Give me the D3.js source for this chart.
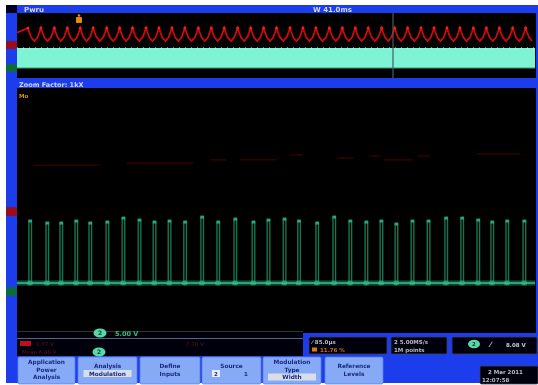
<!DOCTYPE html>
<html><head><meta charset="utf-8">
<script src="https://cdn.jsdelivr.net/npm/d3@7"></script>
<style>html,body{margin:0;padding:0;background:#fff;overflow:hidden}</style>
</head><body><svg id="c" width="538" height="385"></svg>
<script>
// ---------------- DATA ----------------
// Overview (top) window, time in horizontal divisions 0..10
const ch1PeakTimes = [0.21,0.46,0.72,0.97,1.22,1.47,1.73,1.98,2.23,2.49,2.74,2.99,3.24,3.50,3.75,4.00,4.26,4.51,4.76,5.01,5.27,5.52,5.77,6.03,6.28,6.53,6.78,7.04,7.29,7.54,7.80,8.05,8.30,8.55,8.81,9.06,9.31,9.57,9.82];
const ch1CycleFrac  = [0, 0.12, 0.25, 0.5, 0.75, 0.88];   // position inside one period
const ch1CycleLevel = [2.6, 1.9, 1.2, 0.6, 1.2, 1.9];     // divisions above Ch1 marker
const ch2OverviewTop = 15.4;   // V, envelope of the dense pulse train
const ch2OverviewBase = 0.0;   // V

// Zoom (main) window
const pulseTimes = [0.23,0.56,0.83,1.12,1.39,1.72,2.03,2.34,2.63,2.92,3.22,3.55,3.86,4.19,4.54,4.83,5.14,5.42,5.77,6.10,6.41,6.72,7.01,7.30,7.61,7.92,8.26,8.57,8.88,9.15,9.44,9.77];
const pulsePeaks = [14.1,13.7,13.7,14.1,13.7,13.9,14.7,14.3,13.9,14.1,13.9,14.9,13.9,14.5,13.9,14.3,14.5,14.1,13.7,14.9,14.1,13.9,14.1,13.5,14.1,14.1,14.7,14.7,14.3,13.9,14.1,14.1];
const pulseBase = 1.6;         // V
const pulseWidth = 0.05;       // div
const ch1ZoomSegments = [[0.31,1.60,1.85],[2.12,3.40,1.94],[3.73,4.05,2.06],[4.31,5.02,2.06],[5.27,5.52,2.26],[6.18,6.49,2.14],[6.81,7.01,2.22],[7.07,7.64,2.06],[7.72,7.97,2.22],[8.88,9.71,2.30]];

// Texts
const headerLeft = "Pwru";
const headerRight = "W 41.0ms";
const zoomTitle = "Zoom Factor: 1kX";
const ch2Scale = "5.00 V";
const buttonLabels = [["Application","Power","Analysis"],["Analysis","Modulation"],["Define","Inputs"],["Source","2   1"],["Modulation","Type","Width"],["Reference","Levels"]];
const box1 = ["\u2044 85.0\u00b5s","11.76 %"];
const box2 = ["2 5.00MS/s","1M points"];
const box3 = ["\u2044","8.08 V"];
const dateText = ["2 Mar 2011","12:07:58"];

// ---------------- DRAW ----------------
const svg = d3.select("#c");
const defs = svg.append("defs");
defs.append("filter").attr("id","blur").append("feGaussianBlur").attr("stdDeviation",0.5);
const g = svg.append("g").attr("filter","url(#blur)");
const BLUE = "#1f3ceb", FONT = "DejaVu Sans, sans-serif";

g.append("rect").attr("x",0).attr("y",0).attr("width",538).attr("height",385).attr("fill","#fff");
g.append("rect").attr("x",6).attr("y",5).attr("width",532).attr("height",378).attr("fill",BLUE);
g.append("rect").attr("x",6).attr("y",5).attr("width",11).attr("height",8).attr("fill","#05051a");

// header texts
g.append("text").attr("x",24).attr("y",12).text(headerLeft).attr("fill","#cfd8ff").attr("font-family",FONT).attr("font-size",7).attr("font-weight","bold");
g.append("text").attr("x",313).attr("y",12).text(headerRight).attr("fill","#cfd8ff").attr("font-family",FONT).attr("font-size",7).attr("font-weight","bold");

// overview window
const x = d3.scaleLinear().domain([0,10]).range([17,535]);
g.append("rect").attr("x",17).attr("y",13).attr("width",519).attr("height",65).attr("fill","#000");
const yOv1 = d3.scaleLinear().domain([0,1]).range([45,38.5]);
const yOv2 = d3.scaleLinear().domain([0,5]).range([68,61.5]);

// ch2 dense band
g.append("rect").attr("x",x(0)).attr("y",yOv2(ch2OverviewTop)).attr("width",x(10)-x(0)).attr("height",yOv2(ch2OverviewBase)-yOv2(ch2OverviewTop)).attr("fill","#7ef4d4");
g.append("line").attr("x1",x(0)).attr("x2",x(10)).attr("y1",yOv2(ch2OverviewTop)).attr("y2",yOv2(ch2OverviewTop)).attr("stroke","#c8fff0").attr("stroke-width",1).attr("stroke-dasharray","1,5");
g.append("line").attr("x1",x(0)).attr("x2",x(10)).attr("y1",yOv2(ch2OverviewBase)).attr("y2",yOv2(ch2OverviewBase)).attr("stroke","#3a9a7e").attr("stroke-width",1);

// ch1 red wave
const period = ch1PeakTimes[1]-ch1PeakTimes[0];
const wavePts = [];
ch1PeakTimes.forEach((t,i)=>{
  ch1CycleFrac.forEach((f,j)=>{
    const tt = t + f*(i<ch1PeakTimes.length-1 ? ch1PeakTimes[i+1]-t : period);
    if (tt<=10) wavePts.push([tt, ch1CycleLevel[j]]);
  });
});
wavePts.unshift([0, ch1CycleLevel[1]]);
g.append("path").attr("d", d3.line().x(d=>x(d[0])).y(d=>yOv1(d[1]))(wavePts)).attr("fill","none").attr("stroke","#c80808").attr("stroke-width",1.8);
g.selectAll("circle.pk").data(ch1PeakTimes).enter().append("circle").attr("cx",d=>x(d)).attr("cy",yOv1(ch1CycleLevel[0])).attr("r",1.5).attr("fill","#f02020");

// zoom-position line
g.append("line").attr("x1",393).attr("x2",393).attr("y1",13).attr("y2",78).attr("stroke","#4a5a66").attr("stroke-width",1.2);
// trigger marker
g.append("rect").attr("x",76).attr("y",17).attr("width",6).attr("height",6).attr("rx",1).attr("fill","#e88a10");
g.append("circle").attr("cx",79).attr("cy",15.5).attr("r",1.3).attr("fill","#e88a10");

// channel markers overview
g.append("rect").attr("x",6).attr("y",41).attr("width",11).attr("height",8).attr("rx",2).attr("fill","#9a0a1a");
g.append("rect").attr("x",6).attr("y",64).attr("width",11).attr("height",8).attr("rx",2).attr("fill","#0c6a3c");

// zoom title bar
g.append("text").attr("x",19).attr("y",87).text(zoomTitle).attr("fill","#cfd8ff").attr("font-family",FONT).attr("font-size",6.5).attr("font-weight","bold");

// main window
g.append("rect").attr("x",17).attr("y",88).attr("width",519).attr("height",245).attr("fill","#000");
g.append("rect").attr("x",17).attr("y",333).attr("width",286).attr("height",23).attr("fill","#03030c");
g.append("line").attr("x1",17).attr("x2",303).attr("y1",331.5).attr("y2",331.5).attr("stroke","#223a38").attr("stroke-width",1);
g.append("line").attr("x1",17).attr("x2",303).attr("y1",338.5).attr("y2",338.5).attr("stroke","#5a6480").attr("stroke-width",1);
g.append("text").attr("x",19).attr("y",98).text("Mo").attr("fill","#e88a10").attr("font-family",FONT).attr("font-size",5.5).attr("font-weight","bold");

const yMain = d3.scaleLinear().domain([0,25]).range([291,291-124]);
const yCh1Main = d3.scaleLinear().domain([0,1]).range([211,186.2]);

// ch1 faint trace in zoom window
g.selectAll("line.c1z").data(ch1ZoomSegments).enter().append("line")
  .attr("x1",d=>x(d[0])).attr("x2",d=>x(d[1])).attr("y1",d=>yCh1Main(d[2])).attr("y2",d=>yCh1Main(d[2]))
  .attr("stroke","#3e0808").attr("stroke-width",1.3);

// ch2 baseline
g.append("line").attr("x1",x(0)).attr("x2",x(10)).attr("y1",yMain(pulseBase)).attr("y2",yMain(pulseBase)).attr("stroke","#1f9a70").attr("stroke-width",6).attr("opacity",0.3);
g.append("line").attr("x1",x(0)).attr("x2",x(10)).attr("y1",yMain(pulseBase)).attr("y2",yMain(pulseBase)).attr("stroke","#2fb886").attr("stroke-width",2.5).attr("opacity",0.85);

// pulses
const pulses = pulseTimes.map((t,i)=>({t, v:pulsePeaks[i]}));
g.selectAll("path.pulse").data(pulses).enter().append("path")
  .attr("d", d=>`M${x(d.t)},${yMain(pulseBase)}V${yMain(d.v)}H${x(d.t+pulseWidth)}V${yMain(pulseBase)}`)
  .attr("fill","none").attr("stroke","#13744f").attr("stroke-width",1.4);
g.selectAll("rect.ptop").data(pulses).enter().append("rect")
  .attr("x",d=>x(d.t)-0.5).attr("y",d=>yMain(d.v)-1.5).attr("width",x(pulseWidth)-x(0)+1).attr("height",3)
  .attr("fill","#27a87a");
g.selectAll("ellipse.blob").data(pulses).enter().append("ellipse")
  .attr("cx",d=>x(d.t)+1).attr("cy",yMain(pulseBase)).attr("rx",3).attr("ry",2.5).attr("fill","#38c892").attr("opacity",0.6);

// channel markers main
g.append("rect").attr("x",6).attr("y",207).attr("width",11).attr("height",9).attr("rx",2).attr("fill","#9a0a1a");
g.append("rect").attr("x",6).attr("y",287).attr("width",11).attr("height",9).attr("rx",2).attr("fill","#0c6a3c");

// readouts left
function chip(cx, cy){
  g.append("ellipse").attr("cx",cx).attr("cy",cy).attr("rx",6.5).attr("ry",4.5).attr("fill","#58d8a8");
  g.append("text").attr("x",cx).attr("y",cy+2.3).attr("text-anchor","middle").text("2").attr("fill","#0a3a28").attr("font-family",FONT).attr("font-size",6).attr("font-weight","bold");
}
chip(100,333);
g.append("text").attr("x",115).attr("y",335.5).text(ch2Scale).attr("fill","#2fbf86").attr("font-family",FONT).attr("font-size",6.5).attr("font-weight","bold");
g.append("rect").attr("x",20).attr("y",341).attr("width",11).attr("height",5).attr("fill","#c01020");
g.append("text").attr("x",36).attr("y",346).text("1.77 V").attr("fill","#5a1010").attr("font-family",FONT).attr("font-size",5.5);
g.append("text").attr("x",186).attr("y",346).text("7.70 V").attr("fill","#5a1010").attr("font-family",FONT).attr("font-size",5.5);
g.append("text").attr("x",22).attr("y",354).text("Mean 6.88 V").attr("fill","#5a1010").attr("font-family",FONT).attr("font-size",5.5);
chip(99,352);

// info boxes right
function box(x0,x1,y0,y1){ g.append("rect").attr("x",x0).attr("y",y0).attr("width",x1-x0).attr("height",y1-y0).attr("rx",1.5).attr("fill","#020208").attr("stroke","#3a4060").attr("stroke-width",0.8); }
box(309,387,337,354); box(391,447,337,354); box(452,537,337,354);
const tx = (xx,yy,s,c,fs)=>g.append("text").attr("x",xx).attr("y",yy).text(s).attr("fill",c).attr("font-family",FONT).attr("font-size",fs||5.5).attr("font-weight","bold");
tx(312,344,box1[0],"#b8bcc8");
g.append("rect").attr("x",312).attr("y",347.5).attr("width",5).attr("height",4).attr("fill","#e07a10");
tx(320,352,box1[1],"#d06a10");
tx(394,344,box2[0],"#b8bcc8");
tx(394,352,box2[1],"#b8bcc8");
g.append("ellipse").attr("cx",474).attr("cy",344).attr("rx",6).attr("ry",4.3).attr("fill","#58d8a8");
g.append("text").attr("x",474).attr("y",346.2).attr("text-anchor","middle").text("2").attr("fill","#0a3a28").attr("font-family",FONT).attr("font-size",5.5).attr("font-weight","bold");
tx(490,347,box3[0],"#c8ccd8",7);
tx(506,347,box3[1],"#c8ccd8");

// date box
box(480,538,366,384);
tx(488,373.5,dateText[0],"#b8bcc8",5.5);
tx(482,381.5,dateText[1],"#b8bcc8",5.5);

// buttons
const btnX = [[18,75],[78,137],[140,200],[202,261],[263,321],[325,383]];
buttonLabels.forEach((lines,i)=>{
  const [x0,x1] = btnX[i];
  g.append("rect").attr("x",x0).attr("y",357).attr("width",x1-x0).attr("height",27).attr("rx",1.5).attr("fill","#86aaf6").attr("stroke","#5a7ee8").attr("stroke-width",0.8);
  const cx = (x0+x1)/2;
  const n = lines.length;
  const startY = n===3 ? 364 : 368;
  lines.forEach((s,j)=>{
    const yy = startY + j*7.5;
    if ((i===1 && j===1) || (i===4 && j===2)) {
      g.append("rect").attr("x",cx-24).attr("y",yy-5.5).attr("width",48).attr("height",7).attr("fill","#d8dde8");
    }
    if (i===3 && j===1) {
      g.append("rect").attr("x",212).attr("y",yy-5.5).attr("width",8).attr("height",7).attr("fill","#e8ecf4");
      g.append("text").attr("x",216).attr("y",yy).attr("text-anchor","middle").text("2").attr("fill","#1a2a80").attr("font-family",FONT).attr("font-size",5.5).attr("font-weight","bold");
      g.append("text").attr("x",246).attr("y",yy).attr("text-anchor","middle").text("1").attr("fill","#1a2a80").attr("font-family",FONT).attr("font-size",5.5).attr("font-weight","bold");
      return;
    }
    g.append("text").attr("x",cx).attr("y",yy).attr("text-anchor","middle").text(s).attr("fill","#1a2a80").attr("font-family",FONT).attr("font-size",5.8).attr("font-weight","bold");
  });
});
</script></body></html>
